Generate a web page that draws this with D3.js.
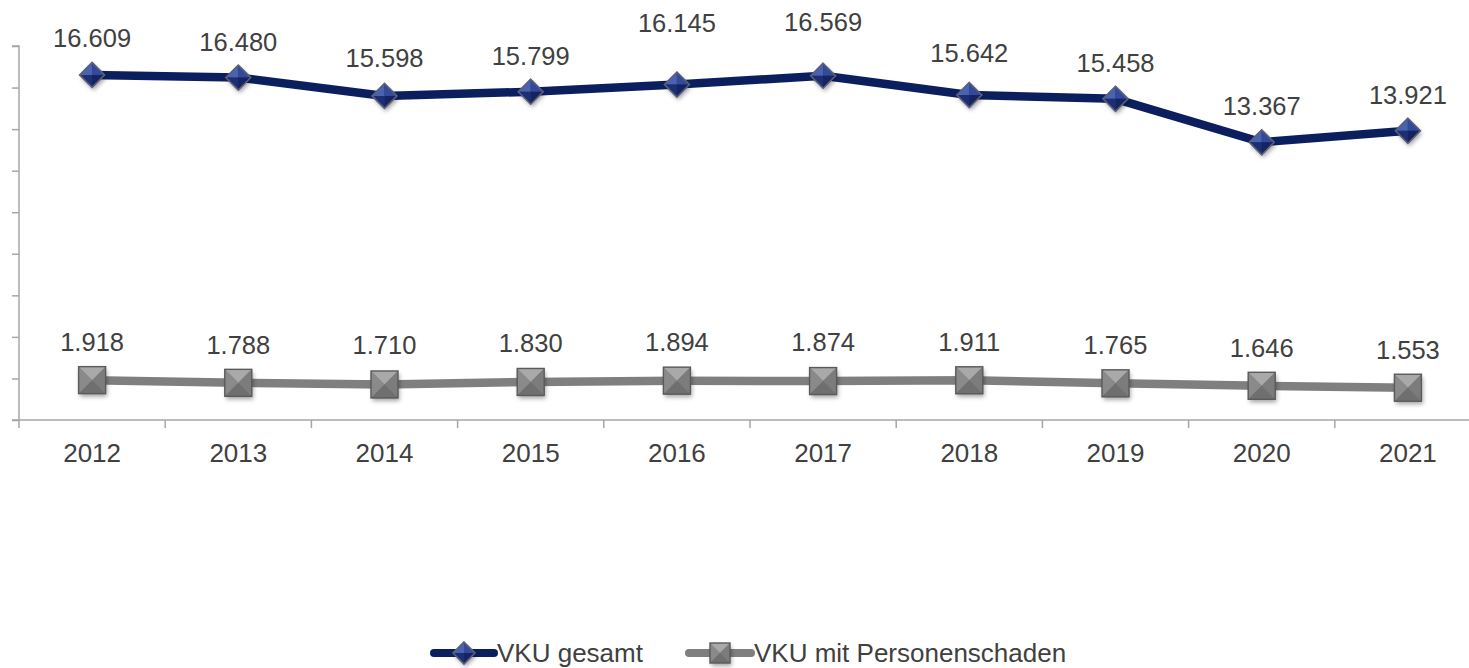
<!DOCTYPE html>
<html>
<head>
<meta charset="utf-8">
<script src="https://cdn.jsdelivr.net/npm/d3@7"></script>
<style>
  html, body { margin: 0; padding: 0; background: #fff; }
  svg { display: block; font-family: "Liberation Sans", Arial, sans-serif; }
</style>
</head>
<body>
<script>

// data
var years = ["2012","2013","2014","2015","2016","2017","2018","2019","2020","2021"];
var vku_gesamt = [16609, 16480, 15598, 15799, 16145, 16569, 15642, 15458, 13367, 13921];
var vku_personen = [1918, 1788, 1710, 1830, 1894, 1874, 1911, 1765, 1646, 1553];
var series_names = ["VKU gesamt", "VKU mit Personenschaden"];
var y_ticks = [0, 2000, 4000, 6000, 8000, 10000, 12000, 14000, 16000, 18000];

// label nudges (px above the marker), the original has some labels moved by hand
var lift_gesamt = [28, 27, 29, 27, 53, 45, 33, 27, 27, 27];
var lift_personen = [29, 29, 30, 30, 30, 30, 29, 29, 29, 29];

var W = 1469, H = 668;
var x0 = 19, bandW = 146.2;
var yTop = 46, yBottom = 420;

var de = d3.formatLocale({decimal: ",", thousands: ".", grouping: [3], currency: ["", " €"]});
var fmt = de.format(",d");

var svg = d3.select("body").append("svg")
    .attr("width", W)
    .attr("height", H);

var defs = svg.append("defs");
var f = defs.append("filter").attr("id", "shadow")
    .attr("x", "-50%").attr("y", "-50%").attr("width", "200%").attr("height", "200%");
f.append("feDropShadow")
    .attr("dx", 1.5).attr("dy", 3).attr("stdDeviation", 2)
    .attr("flood-color", "#000").attr("flood-opacity", 0.35);

var x = d3.scaleBand()
    .domain(years)
    .range([x0, x0 + bandW * years.length])
    .padding(0);

var y = d3.scaleLinear()
    .domain([0, 18000])
    .range([yBottom, yTop]);

var cx = d => x(d) + x.bandwidth() / 2;

// y axis (no labels in the original)
var yAxis = svg.append("g")
    .attr("transform", `translate(${x0},0)`)
    .call(d3.axisLeft(y).tickValues(y_ticks).tickSize(7).tickFormat(""));
yAxis.selectAll("path, line").attr("stroke", "#a6a6a6").attr("stroke-width", 1.5);
yAxis.select(".domain").attr("d", `M-7,${yTop}H0V${yBottom + 8}`);

// x axis: line plus ticks on the category boundaries
var xb = svg.append("g");
xb.append("line")
    .attr("x1", x0 - 7).attr("x2", W)
    .attr("y1", yBottom).attr("y2", yBottom)
    .attr("stroke", "#a6a6a6").attr("stroke-width", 1.5);
xb.selectAll(".xtick")
    .data(years.slice(1))
    .enter().append("line")
    .attr("class", "xtick")
    .attr("x1", d => x(d)).attr("x2", d => x(d))
    .attr("y1", yBottom).attr("y2", yBottom + 8)
    .attr("stroke", "#a6a6a6").attr("stroke-width", 1.5);
xb.selectAll(".xlab")
    .data(years)
    .enter().append("text")
    .attr("class", "xlab")
    .attr("x", d => cx(d))
    .attr("y", 462)
    .attr("text-anchor", "middle")
    .attr("font-size", 26)
    .attr("fill", "#404040")
    .text(d => d);

// markers
function diamond(g, s) {
    let h = s / 2;
    g.append("path").attr("d", `M0,${-h}L${h},0L0,${h}L${-h},0Z`)
        .attr("fill", "#233a86").attr("filter", "url(#shadow)");
    g.append("path").attr("d", `M0,${-h}L${-h},0L0,0Z`).attr("fill", "#4a63b0");
    g.append("path").attr("d", `M0,${-h}L${h},0L0,0Z`).attr("fill", "#33499a");
    g.append("path").attr("d", `M${-h},0L0,${h}L0,0Z`).attr("fill", "#1c2f72");
    g.append("path").attr("d", `M${h},0L0,${h}L0,0Z`).attr("fill", "#142460");
    g.append("path").attr("d", `M0,${-h}L${h},0L0,${h}L${-h},0Z`)
        .attr("fill", "none").attr("stroke", "#5c5f78").attr("stroke-width", 1.6);
}

function square(g, s) {
    let h = s / 2;
    g.append("rect").attr("x", -h).attr("y", -h).attr("width", s).attr("height", s)
        .attr("fill", "#7f7f7f").attr("filter", "url(#shadow)");
    g.append("path").attr("d", `M${-h},${-h}L${h},${-h}L0,0Z`).attr("fill", "#a9a9a9");
    g.append("path").attr("d", `M${-h},${-h}L${-h},${h}L0,0Z`).attr("fill", "#8a8a8a");
    g.append("path").attr("d", `M${h},${-h}L${h},${h}L0,0Z`).attr("fill", "#7c7c7c");
    g.append("path").attr("d", `M${-h},${h}L${h},${h}L0,0Z`).attr("fill", "#6f6f6f");
    g.append("rect").attr("x", -h).attr("y", -h).attr("width", s).attr("height", s)
        .attr("fill", "none").attr("stroke", "#5a5a5a").attr("stroke-width", 1.4);
}

var seriesList = [
    {name: series_names[0], values: vku_gesamt, lift: lift_gesamt, color: "#0b1f5e", marker: diamond, size: 25},
    {name: series_names[1], values: vku_personen, lift: lift_personen, color: "#7f7f7f", marker: square, size: 27}
];

var line = d3.line()
    .x(d => cx(d.year))
    .y(d => y(d.value));

seriesList.forEach(s => {
    let pts = years.map((yr, i) => ({year: yr, value: s.values[i], lift: s.lift[i]}));

    svg.append("path")
        .datum(pts)
        .attr("d", line)
        .attr("fill", "none")
        .attr("stroke", s.color)
        .attr("stroke-width", 8.5)
        .attr("stroke-linejoin", "round");

    svg.selectAll(null)
        .data(pts)
        .enter().append("g")
        .attr("transform", d => `translate(${cx(d.year)},${y(d.value)})`)
        .each(function () { s.marker(d3.select(this), s.size); });

    svg.selectAll(null)
        .data(pts)
        .enter().append("text")
        .attr("x", d => cx(d.year))
        .attr("y", d => y(d.value) - d.lift)
        .attr("text-anchor", "middle")
        .attr("font-size", 25.5)
        .attr("fill", "#404040")
        .text(d => fmt(d.value));
});

// legend
var legendY = 653;
var legendItems = [
    {s: seriesList[0], x1: 434, x2: 494, tx: 497},
    {s: seriesList[1], x1: 689, x2: 751, tx: 754}
];
legendItems.forEach(it => {
    let g = svg.append("g");
    g.append("line")
        .attr("x1", it.x1).attr("x2", it.x2)
        .attr("y1", legendY).attr("y2", legendY)
        .attr("stroke", it.s.color).attr("stroke-width", 8)
        .attr("stroke-linecap", "round");
    let m = g.append("g").attr("transform", `translate(${(it.x1 + it.x2) / 2},${legendY})`);
    it.s.marker(m, it.s.marker === diamond ? 22 : 20);
    g.append("text")
        .attr("x", it.tx)
        .attr("y", legendY + 9)
        .attr("font-size", 26)
        .attr("fill", "#404040")
        .text(it.s.name);
});

</script>
</body>
</html>
